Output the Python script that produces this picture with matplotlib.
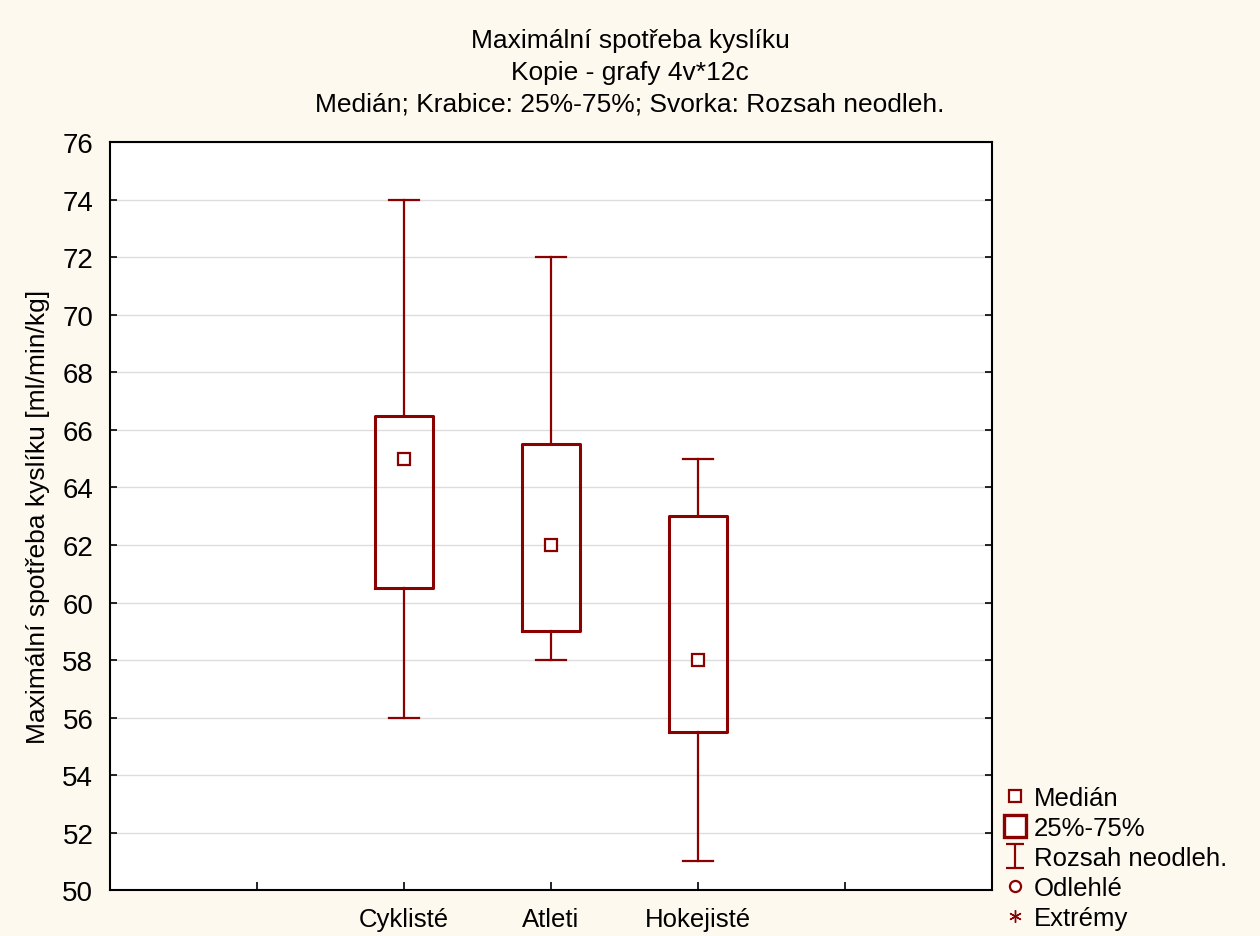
import matplotlib.pyplot as plt
from matplotlib.lines import Line2D
from matplotlib.path import Path

plt.rcParams['font.family'] = ['Liberation Sans', 'DejaVu Sans']

# data
groups = ['Cyklisté', 'Atleti', 'Hokejisté']
medians = [65, 62, 58]
q1 = [60.5, 59, 55.5]
q3 = [66.5, 65.5, 63]
whisk_lo = [56, 58, 51]
whisk_hi = [74, 72, 65]
positions = [2, 3, 4]

red = '#8b0000'
bg = '#fef9ef'

fig = plt.figure(figsize=(12.6, 9.37), dpi=100, facecolor=bg)
ax = fig.add_axes([0.0873, 0.049, 0.7, 0.798])
ax.set_facecolor('white')

stats = []
for i, g in enumerate(groups):
    stats.append(dict(label=g, med=medians[i], q1=q1[i], q3=q3[i],
                      whislo=whisk_lo[i], whishi=whisk_hi[i], fliers=[]))

ax.bxp(stats, positions=positions, widths=0.4, capwidths=0.2,
       showfliers=False, patch_artist=False,
       boxprops=dict(color=red, linewidth=2.2),
       whiskerprops=dict(color=red, linewidth=1.6),
       capprops=dict(color=red, linewidth=1.6),
       medianprops=dict(linestyle='none'), zorder=3)
ax.plot(positions, medians, linestyle='none', marker='s', markersize=8,
        markerfacecolor='white', markeredgecolor=red, markeredgewidth=1.6, zorder=4)

ax.set_xlim(0, 6)
ax.set_ylim(50, 76)
ax.set_yticks(range(50, 77, 2))
ax.set_xticks([1, 2, 3, 4, 5])
ax.set_xticklabels(['', 'Cyklisté', 'Atleti', 'Hokejisté', ''])
ax.tick_params(axis='x', direction='in', length=6, width=1.2, pad=12, labelsize=18.5)
ax.tick_params(axis='y', direction='in', length=5, width=1.2, right=True,
               labelsize=20, pad=12)
ax.yaxis.grid(True, color='#dddddd', linewidth=1)
ax.set_axisbelow(True)
for s in ax.spines.values():
    s.set_linewidth(1.5)

ax.set_ylabel('Maximální spotřeba kyslíku [ml/min/kg]', fontsize=19, labelpad=9)

fig.text(0.5, 0.956, 'Maximální spotřeba kyslíku', ha='center', va='center', fontsize=19)
fig.text(0.5, 0.922, 'Kopie - grafy 4v*12c', ha='center', va='center', fontsize=19)
fig.text(0.5, 0.888, 'Medián; Krabice: 25%-75%; Svorka: Rozsah neodleh.',
         ha='center', va='center', fontsize=19)

# legend
ibeam = Path([(-0.8, -1), (0.8, -1), (0, -1), (0, 1), (-0.8, 1), (0.8, 1)],
             [Path.MOVETO, Path.LINETO, Path.MOVETO, Path.LINETO, Path.MOVETO, Path.LINETO])
handles = [
    Line2D([], [], linestyle='none', marker='s', markersize=8.5, markerfacecolor='white',
           markeredgecolor=red, markeredgewidth=1.6),
    Line2D([], [], linestyle='none', marker='s', markersize=15.5, markerfacecolor='white',
           markeredgecolor=red, markeredgewidth=2.4),
    Line2D([], [], linestyle='none', marker=ibeam, markersize=17, markerfacecolor='none',
           markeredgecolor=red, markeredgewidth=1.6),
    Line2D([], [], linestyle='none', marker='o', markersize=8, markerfacecolor='white',
           markeredgecolor=red, markeredgewidth=1.6),
    Line2D([], [], linestyle='none', marker=(6, 2, 0), markersize=9,
           markeredgecolor=red, markeredgewidth=1.0),
]
labels = ['Medián', '25%-75%', 'Rozsah neodleh.', 'Odlehlé', 'Extrémy']
fig.legend(handles, labels, loc='lower left', bbox_to_anchor=(0.783, -0.0125),
           frameon=False, fontsize=18.5, handlelength=0.8, handletextpad=0.35,
           labelspacing=0.235, borderaxespad=0.3)

fig.savefig('out.png', dpi=100, facecolor=bg)
